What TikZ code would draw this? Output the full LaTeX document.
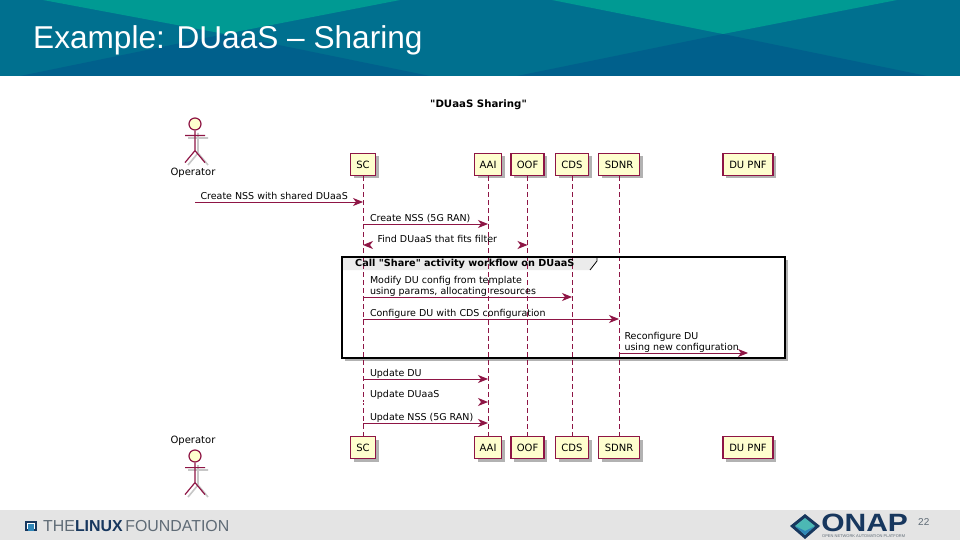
\documentclass[tikz,border=0pt]{standalone}
\usepackage{fontspec}
\setmainfont{Liberation Sans}
\newfontfamily\umlfont{DejaVu Sans}
\usepackage{xcolor}
\usetikzlibrary{arrows.meta,shadows}
\definecolor{headmain}{HTML}{00708F}
\definecolor{headtop}{HTML}{009A93}
\definecolor{headlow}{HTML}{00608C}
\definecolor{footbar}{HTML}{E4E4E4}
\definecolor{umlline}{HTML}{8E1545}
\definecolor{umlfill}{HTML}{FEFECE}
\definecolor{navylogo}{HTML}{17375E}
\definecolor{greylogo}{HTML}{5F6B76}
\definecolor{bluelogo}{HTML}{2F86B8}
\tikzset{
  partbox/.style={draw=umlline,line width=1.2pt,fill=umlfill,minimum height=22pt,inner sep=0pt,
    font=\umlfont\fontsize{10}{10}\selectfont,drop shadow={shadow xshift=3pt,shadow yshift=-3pt,fill=black!30,opacity=1}},
  lifeline/.style={draw=umlline,line width=.8pt,dash pattern=on 5pt off 3pt},
  msg/.style={draw=umlline,line width=1pt,-{Stealth[length=10pt,width=8pt,inset=3pt]}},
  msgfaint/.style={draw=white,line width=1pt,{Stealth[length=10pt,width=8pt,inset=3pt,color=umlline]}-{Stealth[length=10pt,width=8pt,inset=3pt,color=umlline]}},
  msgheadonly/.style={draw=white,line width=1pt,-{Stealth[length=10pt,width=8pt,inset=3pt,color=umlline]}},
  msgtext/.style={pos=0,anchor=south west,inner sep=0pt,xshift=6.5pt,yshift=2pt,align=left,text depth=0pt,
    font=\umlfont\fontsize{9.5}{11.5}\selectfont},
  umltext/.style={inner sep=0pt,font=\umlfont\fontsize{10}{11}\selectfont},
  actorhead/.style={circle,draw=umlline,line width=1.2pt,fill=umlfill,minimum size=12pt,inner sep=0pt},
  actorline/.style={draw=umlline,line width=1.2pt},
  actorshade/.style={draw=black!22,line width=1.6pt},
}
\begin{document}
\begin{tikzpicture}[x=1pt,y=-1pt]
\useasboundingbox (0,0) rectangle (960,540);
\fill[white] (0,0) rectangle (960,540);

\fill[headmain] (0,0) rectangle (960,76);
\fill[headtop] (43,0) -- (225,34) -- (400,0) -- cycle;
\fill[headtop] (552,0) -- (723,34) -- (897,0) -- cycle;
\fill[headlow] (20,76) -- (225,34) -- (430,76) -- cycle;
\fill[headlow] (517,76) -- (723,34) -- (927,76) -- cycle;
\node (slidetitle) [anchor=west,inner sep=0pt,white,font=\fontsize{31.6}{32}\selectfont] at (33,40) {Example: DUaaS -- Sharing};

\fill[footbar] (0,510) rectangle (960,540);
\fill[navylogo] (25,521) rectangle (37,531);
\fill[white] (27,523) rectangle (35,529);
\fill[bluelogo] (28,524) rectangle (34,531);
\node (lfname) [anchor=west,inner sep=0pt,greylogo,font=\fontsize{15.9}{16}\selectfont] at (43,526) {THE\textcolor{navylogo}{\textbf{LINUX}}\,FOUNDATION};
\fill[navylogo] (790,526) -- (805,514) -- (820,526) -- (805,539) -- cycle;
\fill[headtop!70!white] (795,526) -- (805,518) -- (815,526) -- (805,535) -- cycle;
\fill[bluelogo] (795,526) -- (805,531) -- (815,526) -- (805,535) -- cycle;
\node (onapname) [anchor=west,inner sep=0pt,navylogo,font=\bfseries\fontsize{25}{25}\selectfont,text height=17pt,text depth=0pt,xscale=1.2] at (821,523) {ONAP};
\node (onapsub) [anchor=west,inner sep=0pt,greylogo,font=\fontsize{4}{4}\selectfont] at (822,536) {OPEN NETWORK AUTOMATION PLATFORM};
\node (pagenum) [anchor=west,inner sep=0pt,greylogo,font=\fontsize{10}{10}\selectfont] at (918,522) {22};

\node (charttitle) [umltext,font=\umlfont\bfseries\fontsize{10.2}{10}\selectfont] at (478.5,105) {"DUaaS Sharing"};

\node (sc) [partbox,minimum width=25pt] at (363,164.5) {SC};
\node (aai) [partbox,minimum width=27pt,right of=sc,node distance=125pt] {AAI};
\node (oof) [partbox,minimum width=33pt,right of=aai,node distance=39.5pt] {OOF};
\node (cds) [partbox,minimum width=33pt,right of=oof,node distance=44.5pt] {CDS};
\node (sdnr) [partbox,minimum width=41pt,right of=cds,node distance=47pt] {SDNR};
\node (dupnf) [partbox,minimum width=50pt,right of=sdnr,node distance=129pt] {DU PNF};

\node (scend) [partbox,minimum width=25pt] at (363,447.5) {SC};
\node (aaiend) [partbox,minimum width=27pt,right of=scend,node distance=125pt] {AAI};
\node (oofend) [partbox,minimum width=33pt,right of=aaiend,node distance=39.5pt] {OOF};
\node (cdsend) [partbox,minimum width=33pt,right of=oofend,node distance=44.5pt] {CDS};
\node (sdnrend) [partbox,minimum width=41pt,right of=cdsend,node distance=47pt] {SDNR};
\node (dupnfend) [partbox,minimum width=50pt,right of=sdnrend,node distance=129pt] {DU PNF};

\node (callframe) [draw=black,line width=1.5pt,fill=white,minimum width=443pt,minimum height=101pt,inner sep=0pt,
  drop shadow={shadow xshift=3pt,shadow yshift=-3pt,fill=black!30,opacity=1}] at (563.5,307.5) {};
\fill[black!8] (callframe.north west) -- (597,257) -- (597,261) -- (590,270) -- (342,270) -- cycle;
\draw[black,line width=.8pt] (597,257) -- (597,261) -- (590,270);

\foreach \part/\partend in {sc/scend,aai/aaiend,oof/oofend,cds/cdsend,sdnr/sdnrend}
  \draw[lifeline] (\part) -- (\partend);
\node (callframeline) [draw=black,line width=1.5pt,minimum width=443pt,minimum height=101pt,inner sep=0pt] at (callframe) {};
\node (calltitle) [umltext,anchor=west,font=\umlfont\bfseries\fontsize{9.7}{10}\selectfont] at (355,264) {Call "Share" activity workflow on DUaaS};

\foreach \actor/\heady in {optop/124,opbot/456} {
  \draw[actorshade] (198,{\heady+9}) -- (198,{\heady+29}) (188,{\heady+14}) -- (208,{\heady+14}) (188,{\heady+41}) -- (198,{\heady+29}) -- (208,{\heady+41});
  \node (\actor) [actorhead] at (195,\heady) {};
  \draw[actorline] (\actor.south) -- ++(0,20) ++(-10,-15) -- ++(20,0) ++(-20,27) -- ++(10,-12) -- ++(10,12);
}
\node (optoplabel) [umltext] at (193,173) {Operator};
\node (opbotlabel) [umltext] at (193,441) {Operator};

\coordinate (opsend) at (195,202);
\coordinate (y1) at (0,224);
\coordinate (y2) at (0,245);
\coordinate (y3) at (0,297);
\coordinate (y4) at (0,319);
\coordinate (y5) at (0,353);
\coordinate (y6) at (0,379);
\coordinate (y7) at (0,402);
\coordinate (y8) at (0,423);

\draw[msg] (opsend) -- (sc |- opsend) node[msgtext,xshift=-1.5pt] {Create NSS with shared DUaaS};
\draw[msg] (sc |- y1) -- (aai |- y1) node[msgtext] {Create NSS (5G RAN)};
\draw[msgfaint] (sc |- y2) -- (oof |- y2) node[msgtext,xshift=7.5pt] {Find DUaaS that fits filter};
\draw[msg] (sc |- y3) -- (cds |- y3) node[msgtext] {Modify DU config from template\\using params, allocating resources};
\draw[msg] (sc |- y4) -- (sdnr |- y4) node[msgtext] {Configure DU with CDS configuration};
\draw[msg] (sdnr |- y5) -- (dupnf |- y5) node[msgtext,xshift=-1.5pt] {Reconfigure DU\\using new configuration};
\draw[msg] (sc |- y6) -- (aai |- y6) node[msgtext] {Update DU};
\draw[msgheadonly] (sc |- y7) -- (aai |- y7) node[msgtext,yshift=2pt] {Update DUaaS};
\draw[msg] (sc |- y8) -- (aai |- y8) node[msgtext] {Update NSS (5G RAN)};
\end{tikzpicture}
\end{document}
